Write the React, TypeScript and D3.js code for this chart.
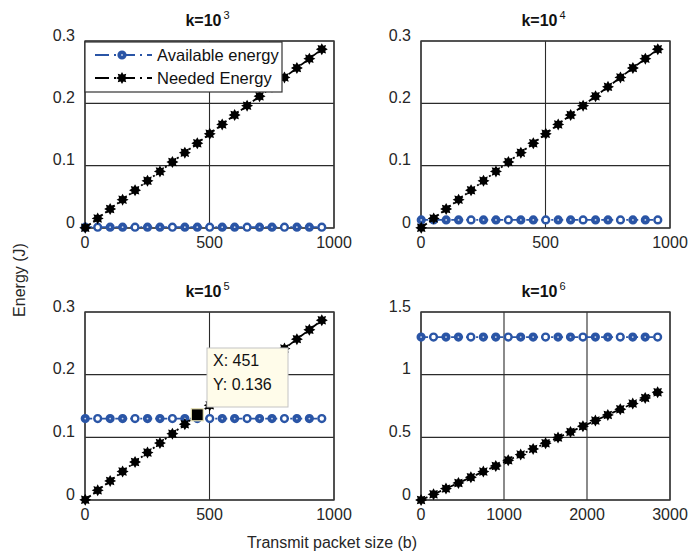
import React from "react";
import * as d3 from "d3";

// ---- data ----
const xSmall = [1, 51, 101, 151, 201, 251, 301, 351, 401, 451, 501, 551, 601, 651, 701, 751, 801, 851, 901, 951];
const xLarge = [1, 151, 301, 451, 601, 751, 901, 1051, 1201, 1351, 1501, 1651, 1801, 1951, 2101, 2251, 2401, 2551, 2701, 2851];

const neededSmall = [0.0003, 0.0154, 0.0305, 0.0455, 0.0606, 0.0757, 0.0908, 0.1059, 0.1209, 0.136,
  0.1511, 0.1662, 0.1813, 0.1963, 0.2114, 0.2265, 0.2416, 0.2567, 0.2717, 0.2868];
const neededLarge = [0.0003, 0.0455, 0.0908, 0.136, 0.1813, 0.2265, 0.2717, 0.317, 0.3622, 0.4075,
  0.4527, 0.4979, 0.5432, 0.5884, 0.6337, 0.6789, 0.7241, 0.7694, 0.8146, 0.8599];

const availableK3 = [0.0013, 0.0013, 0.0013, 0.0013, 0.0013, 0.0013, 0.0013, 0.0013, 0.0013, 0.0013,
  0.0013, 0.0013, 0.0013, 0.0013, 0.0013, 0.0013, 0.0013, 0.0013, 0.0013, 0.0013];
const availableK4 = [0.013, 0.013, 0.013, 0.013, 0.013, 0.013, 0.013, 0.013, 0.013, 0.013,
  0.013, 0.013, 0.013, 0.013, 0.013, 0.013, 0.013, 0.013, 0.013, 0.013];
const availableK5 = [0.13, 0.13, 0.13, 0.13, 0.13, 0.13, 0.13, 0.13, 0.13, 0.13,
  0.13, 0.13, 0.13, 0.13, 0.13, 0.13, 0.13, 0.13, 0.13, 0.13];
const availableK6 = [1.3, 1.3, 1.3, 1.3, 1.3, 1.3, 1.3, 1.3, 1.3, 1.3,
  1.3, 1.3, 1.3, 1.3, 1.3, 1.3, 1.3, 1.3, 1.3, 1.3];

const exponents = ["3", "4", "5", "6"];
const xTicksSmall = [0, 500, 1000];
const xTicksLarge = [0, 1000, 2000, 3000];
const yTicksSmall = [0, 0.1, 0.2, 0.3];
const yTicksLarge = [0, 0.5, 1, 1.5];
const legendLabels = ["Available energy", "Needed Energy"];
const tipX = 451;
const tipY = 0.136;

// ---- styles ----
const BLUE = "#2a55a6";
const FONT = "'Liberation Sans', Arial, Helvetica, sans-serif";
const GRID = "#2b2b2b";

type Panel = {
  left: number; right: number; top: number; bottom: number;
  xDomain: [number, number]; yDomain: [number, number];
  xTicks: number[]; yTicks: number[];
  xs: number[]; avail: number[]; needed: number[]; exp: string;
};

const panels: Panel[] = [
  { left: 85, right: 334, top: 41, bottom: 228, xDomain: [0, 1000], yDomain: [0, 0.3], xTicks: xTicksSmall, yTicks: yTicksSmall, xs: xSmall, avail: availableK3, needed: neededSmall, exp: exponents[0] },
  { left: 421, right: 670, top: 41, bottom: 228, xDomain: [0, 1000], yDomain: [0, 0.3], xTicks: xTicksSmall, yTicks: yTicksSmall, xs: xSmall, avail: availableK4, needed: neededSmall, exp: exponents[1] },
  { left: 85, right: 334, top: 312, bottom: 500, xDomain: [0, 1000], yDomain: [0, 0.3], xTicks: xTicksSmall, yTicks: yTicksSmall, xs: xSmall, avail: availableK5, needed: neededSmall, exp: exponents[2] },
  { left: 421, right: 670, top: 312, bottom: 500, xDomain: [0, 3000], yDomain: [0, 1.5], xTicks: xTicksLarge, yTicks: yTicksLarge, xs: xLarge, avail: availableK6, needed: neededLarge, exp: exponents[3] },
];

function starPath(r: number): string {
  const pts: [number, number][] = [];
  const n = 8;
  for (let i = 0; i < n * 2; i++) {
    const rad = i % 2 === 0 ? r : r * 0.62;
    const a = (Math.PI * i) / n - Math.PI / 2;
    pts.push([Math.cos(a) * rad, Math.sin(a) * rad]);
  }
  return "M" + pts.map((p) => p[0].toFixed(2) + "," + p[1].toFixed(2)).join("L") + "Z";
}
const STAR = starPath(6);

function BlueMarker({ x, y, i }: { x: number; y: number; i: number }) {
  const open = i % 3 === 1;
  return (
    <g>
      <circle cx={x} cy={y} r={3.4} fill={open ? "#ffffff" : BLUE} stroke={BLUE} strokeWidth={2.4} />
      {!open && <circle cx={x} cy={y} r={0.9} fill="#c9d4ea" />}
    </g>
  );
}

function PanelView({ p }: { p: Panel }) {
  const x = d3.scaleLinear().domain(p.xDomain).range([p.left, p.right]);
  const y = d3.scaleLinear().domain(p.yDomain).range([p.bottom, p.top]);
  const line = d3.line<number>().x((_, i) => x(p.xs[i])).y((d) => y(d));
  const fmt = d3.format("~g");
  const cx = (p.left + p.right) / 2;
  return (
    <g>
      <rect x={p.left} y={p.top} width={p.right - p.left} height={p.bottom - p.top} fill="#fff" />
      {p.xTicks.map((t) => (
        <line key={"gx" + t} x1={x(t)} x2={x(t)} y1={p.top} y2={p.bottom} stroke={GRID} strokeWidth={1.1} />
      ))}
      {p.yTicks.map((t) => (
        <line key={"gy" + t} x1={p.left} x2={p.right} y1={y(t)} y2={y(t)} stroke={GRID} strokeWidth={1.1} />
      ))}
      <rect x={p.left} y={p.top} width={p.right - p.left} height={p.bottom - p.top} fill="none" stroke="#3a3a3a" strokeWidth={1.4} />
      {p.xTicks.map((t) => (
        <text key={"tx" + t} x={x(t)} y={p.bottom + 20} textAnchor="middle" fontSize={16} fill="#262626" fontFamily={FONT}>
          {fmt(t)}
        </text>
      ))}
      {p.yTicks.map((t) => (
        <text key={"ty" + t} x={p.left - 10} y={y(t) - 0.5} textAnchor="end" fontSize={16} fill="#262626" fontFamily={FONT}>
          {fmt(t)}
        </text>
      ))}
      <text x={cx - 2} y={p.top - 15} textAnchor="middle" fontSize={16} fontWeight="bold" fill="#111" fontFamily={FONT}>
        k=10
        <tspan fontSize={11} fontWeight="normal" dx={2} dy={-7}>{p.exp}</tspan>
      </text>
      {/* available energy */}
      <path d={line(p.avail) || ""} fill="none" stroke={BLUE} strokeWidth={1.8} strokeDasharray="7,3,2,3" />
      {p.avail.map((v, i) => (
        <BlueMarker key={"a" + i} x={x(p.xs[i])} y={y(v)} i={i} />
      ))}
      {/* needed energy */}
      <path d={line(p.needed) || ""} fill="none" stroke="#000" strokeWidth={1.8} strokeDasharray="7,3,2,3" />
      {p.needed.map((v, i) => (
        <path key={"n" + i} d={STAR} transform={`translate(${x(p.xs[i])},${y(v)})`} fill="#000" />
      ))}
    </g>
  );
}

export default function App() {
  const p1 = panels[0];
  const p3 = panels[2];
  const x3 = d3.scaleLinear().domain(p3.xDomain).range([p3.left, p3.right]);
  const y3 = d3.scaleLinear().domain(p3.yDomain).range([p3.bottom, p3.top]);
  const tx = x3(tipX);
  const ty = y3(tipY);
  return (
    <svg width={690} height={554} style={{ position: "absolute", left: 0, top: 0, background: "#fff" }} fontFamily={FONT}>
      <rect x={0} y={0} width={690} height={554} fill="#fff" />
      {panels.map((p, i) => (
        <PanelView key={i} p={p} />
      ))}
      {/* legend */}
      <g>
        <rect x={p1.left} y={p1.top + 1} width={197} height={50} fill="#fff" stroke="#333" strokeWidth={1.2} />
        <line x1={95} x2={152} y1={55} y2={55} stroke={BLUE} strokeWidth={1.8} strokeDasharray="14,5,2,5" />
        <circle cx={122} cy={55} r={3.4} fill={BLUE} stroke={BLUE} strokeWidth={2.4} />
        <circle cx={122} cy={55} r={0.9} fill="#c9d4ea" />
        <text x={157} y={61} fontSize={16.5} fill="#111" fontFamily={FONT}>{legendLabels[0]}</text>
        <line x1={95} x2={152} y1={78} y2={78} stroke="#000" strokeWidth={1.8} strokeDasharray="14,5,2,5" />
        <path d={STAR} transform="translate(122,78)" fill="#000" />
        <text x={157} y={84} fontSize={16.5} fill="#111" fontFamily={FONT}>{legendLabels[1]}</text>
      </g>
      {/* data tip */}
      <g>
        <rect x={tx - 6} y={ty - 6} width={12} height={12} fill="#000" stroke="#e9e3b5" strokeWidth={1.2} />
        <line x1={tx + 10} x2={tx + 16} y1={ty - 7} y2={ty - 7} stroke="#000" strokeWidth={1} />
        <rect x={207} y={348} width={81} height={59} fill="#fffcea" stroke="#c4c4c4" strokeWidth={1} />
        <text x={213} y={366} fontSize={16} fill="#111" fontFamily={FONT}>{`X: ${tipX}`}</text>
        <text x={213} y={390} fontSize={16} fill="#111" fontFamily={FONT}>{`Y: ${tipY}`}</text>
      </g>
      {/* axis labels */}
      <text x={332} y={548} textAnchor="middle" fontSize={16} fill="#262626" fontFamily={FONT}>Transmit packet size (b)</text>
      <text transform="translate(25,280) rotate(-90)" textAnchor="middle" fontSize={16} fill="#262626" fontFamily={FONT}>Energy (J)</text>
    </svg>
  );
}
